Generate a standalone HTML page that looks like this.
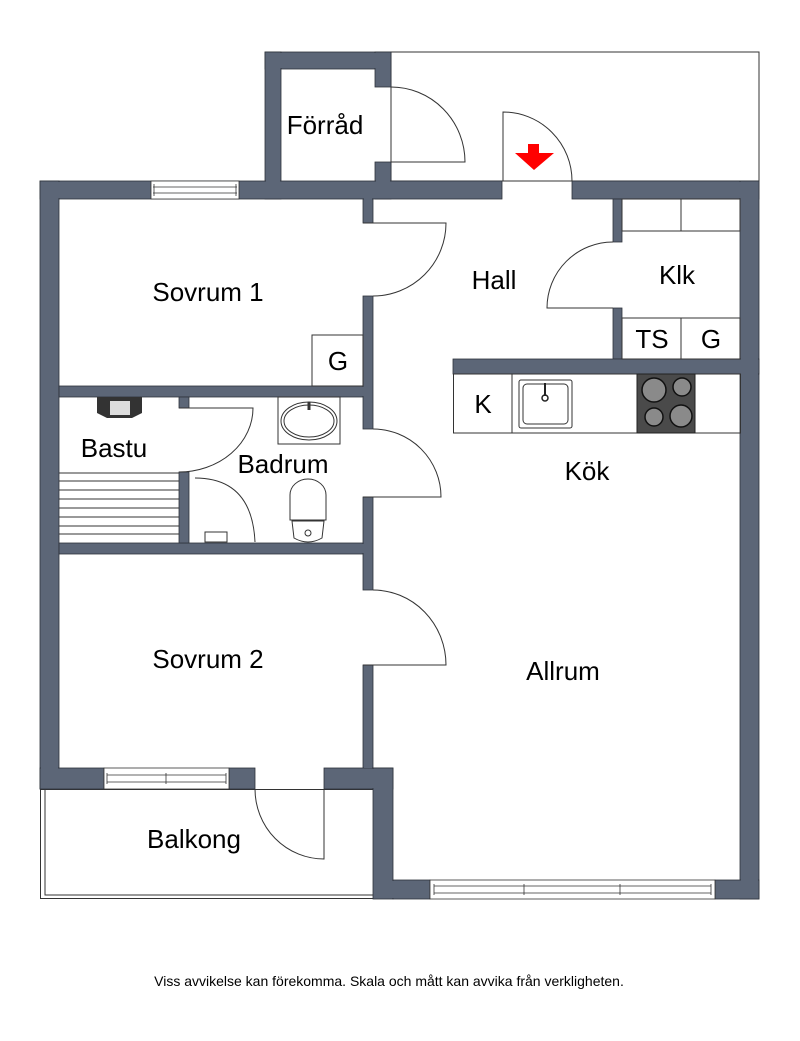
<!DOCTYPE html>
<html><head><meta charset="utf-8"><style>
html,body{margin:0;padding:0;background:#fff;width:800px;height:1041px;overflow:hidden}
svg{display:block}
text{font-family:"Liberation Sans",Arial,sans-serif;fill:#000}
</style></head><body>
<svg width="800" height="1041" viewBox="0 0 800 1041" xmlns="http://www.w3.org/2000/svg">
<rect x="391" y="52" width="368" height="129" fill="none" stroke="#333" stroke-width="1"/>
<rect x="40.5" y="789.5" width="333" height="109" fill="#fff" stroke="#333" stroke-width="1"/>
<polyline points="45,789 45,895 373,895" fill="none" stroke="#333" stroke-width="1"/>

<g fill="#5c6677" stroke="#2e333b" stroke-width="0.8">
<rect x="265" y="52" width="126" height="17"/>
<rect x="265" y="52" width="16" height="147"/>
<rect x="375" y="52" width="16" height="35"/>
<rect x="375" y="162" width="16" height="37"/>
<rect x="40" y="181" width="462" height="18"/>
<rect x="572" y="181" width="187" height="18"/>
<rect x="40" y="181" width="19" height="608"/>
<rect x="740" y="181" width="19" height="718"/>
<rect x="363" y="199" width="10" height="24"/>
<rect x="363" y="296" width="10" height="133"/>
<rect x="363" y="497" width="10" height="93"/>
<rect x="363" y="665" width="10" height="104"/>
<rect x="59" y="386" width="304" height="11"/>
<rect x="59" y="543" width="304" height="11"/>
<rect x="179" y="397" width="10" height="11"/>
<rect x="179" y="472" width="10" height="71"/>
<rect x="40" y="768" width="64" height="21"/>
<rect x="229" y="768" width="26" height="21"/>
<rect x="324" y="768" width="69" height="21"/>
<rect x="373" y="768" width="20" height="131"/>
<rect x="393" y="880" width="37" height="19"/>
<rect x="715" y="880" width="44" height="19"/>
<rect x="613" y="199" width="9" height="43"/>
<rect x="613" y="308" width="9" height="51"/>
<rect x="453" y="359" width="306" height="15"/>
</g>
<g fill="#5c6677">
<rect x="41" y="182" width="460" height="16"/>
<rect x="41" y="182" width="17" height="606"/>
<rect x="574" y="182" width="184" height="16"/>
<rect x="741" y="182" width="17" height="716"/>
<rect x="364" y="182" width="8" height="40"/>
<rect x="266" y="53" width="124" height="15"/>
<rect x="266" y="53" width="14" height="145"/>
<rect x="376" y="53" width="14" height="33"/>
<rect x="376" y="163" width="14" height="35"/>
<rect x="60" y="387" width="304" height="9"/>
<rect x="60" y="544" width="304" height="9"/>
<rect x="364" y="298" width="8" height="130"/>
<rect x="364" y="498" width="8" height="91"/>
<rect x="364" y="666" width="8" height="102"/>
<rect x="41" y="769" width="62" height="19"/>
<rect x="325" y="769" width="67" height="19"/>
<rect x="374" y="769" width="18" height="129"/>
<rect x="392" y="881" width="37" height="17"/>
<rect x="716" y="881" width="42" height="17"/>
<rect x="454" y="360" width="304" height="13"/>
<rect x="614" y="200" width="7" height="41"/>
<rect x="614" y="309" width="7" height="49"/>
</g>

<g fill="#fff" stroke="#333" stroke-width="0.8">
<rect x="151" y="181" width="88" height="18"/>
<line x1="153" y1="187" x2="237" y2="187"/><line x1="153" y1="193" x2="237" y2="193"/>
<line x1="154" y1="184" x2="154" y2="196"/><line x1="236" y1="184" x2="236" y2="196"/>
<rect x="104" y="768" width="125" height="21"/>
<line x1="107" y1="775" x2="226" y2="775"/><line x1="107" y1="782" x2="226" y2="782"/>
<line x1="107" y1="773" x2="107" y2="784"/><line x1="166" y1="773" x2="166" y2="784"/><line x1="226" y1="773" x2="226" y2="784"/>
<rect x="430" y="880" width="285" height="19"/>
<line x1="434" y1="886" x2="711" y2="886"/><line x1="434" y1="893" x2="711" y2="893"/>
<line x1="434" y1="884" x2="434" y2="895"/><line x1="524" y1="884" x2="524" y2="895"/><line x1="620" y1="884" x2="620" y2="895"/><line x1="711" y1="884" x2="711" y2="895"/>
</g>

<g fill="none" stroke="#333" stroke-width="1">
<path d="M391,162 H465 A74,75 0 0 0 391,87"/>
<path d="M503,181 V112 A69,69 0 0 1 572,181"/>
<path d="M363,223 H446 A73,73 0 0 1 373,296"/>
<path d="M179,408 H253 A74,64 0 0 1 179,472"/>
<path d="M363,497 H441 A68,68 0 0 0 373,429"/>
<path d="M363,665 H446 A73,75 0 0 0 373,590"/>
<path d="M613,308 H547 A66,66 0 0 1 613,242"/>
<path d="M324,789 V859 A69,70 0 0 1 255,789"/>
</g>

<polygon points="528,144 539,144 539,153 554,153 534,170 515,153 528,153" fill="#f00"/>

<g fill="none" stroke="#333" stroke-width="1">
<rect x="312" y="335" width="51" height="51" fill="#fff"/>
<rect x="622" y="199" width="118" height="32"/>
<line x1="681" y1="199" x2="681" y2="231"/>
<rect x="622" y="318" width="118" height="41"/>
<line x1="681" y1="318" x2="681" y2="359"/>
<rect x="453.5" y="374" width="287" height="59"/>
<line x1="512" y1="374" x2="512" y2="433"/>
<rect x="519" y="380" width="53" height="48" rx="2"/>
<rect x="523" y="384" width="45" height="40" rx="4"/>
<line x1="59" y1="473" x2="179" y2="473"/><line x1="59" y1="481" x2="179" y2="481"/>
<line x1="59" y1="490" x2="179" y2="490"/><line x1="59" y1="499" x2="179" y2="499"/>
<line x1="59" y1="508" x2="179" y2="508"/><line x1="59" y1="517" x2="179" y2="517"/>
<line x1="59" y1="526" x2="179" y2="526"/><line x1="59" y1="534" x2="179" y2="534"/>
<rect x="278" y="397" width="62" height="47"/>
<ellipse cx="309" cy="421" rx="28" ry="19"/>
<ellipse cx="309" cy="421" rx="25" ry="16"/>
<path d="M290,520 V495 A18,16 0 0 1 326,495 V520 Z"/>
<path d="M292,521 H324 L322,538 Q308,546 294,538 Z"/>
<path d="M195,478 Q252,478 255,542"/>
</g>
<circle cx="545" cy="398" r="3" fill="none" stroke="#222" stroke-width="1.5"/>
<line x1="545" y1="383" x2="545" y2="396" stroke="#222" stroke-width="2"/>
<line x1="309" y1="402" x2="309" y2="410" stroke="#333" stroke-width="3"/>
<circle cx="308" cy="533" r="3" fill="none" stroke="#333"/>
<rect x="637" y="374" width="58" height="59" fill="#4a4a4a" stroke="#222"/>
<g stroke="#111" fill="#8a8a8a" stroke-width="1.5">
<circle cx="654" cy="390" r="12"/><circle cx="682" cy="387" r="9"/>
<circle cx="654" cy="417" r="9"/><circle cx="681" cy="416" r="11"/>
</g>
<path d="M97,397 H142 V413 L132,418 H107 L97,413 Z" fill="#333"/>
<rect x="110" y="401" width="20" height="14" fill="#ddd"/>
<rect x="205" y="532" width="22" height="10" fill="none" stroke="#333"/>

<g font-size="26" text-anchor="middle">
<text x="325" y="134">Förråd</text>
<text x="208" y="301">Sovrum 1</text>
<text x="494" y="289">Hall</text>
<text x="677" y="284">Klk</text>
<text x="652" y="348">TS</text>
<text x="711" y="348">G</text>
<text x="338" y="370">G</text>
<text x="483" y="413">K</text>
<text x="587" y="480">Kök</text>
<text x="114" y="457">Bastu</text>
<text x="283" y="473">Badrum</text>
<text x="208" y="668">Sovrum 2</text>
<text x="563" y="680">Allrum</text>
<text x="194" y="848">Balkong</text>
</g>
<text x="389" y="986" font-size="14" text-anchor="middle">Viss avvikelse kan förekomma. Skala och mått kan avvika från verkligheten.</text>
</svg>
</body></html>
